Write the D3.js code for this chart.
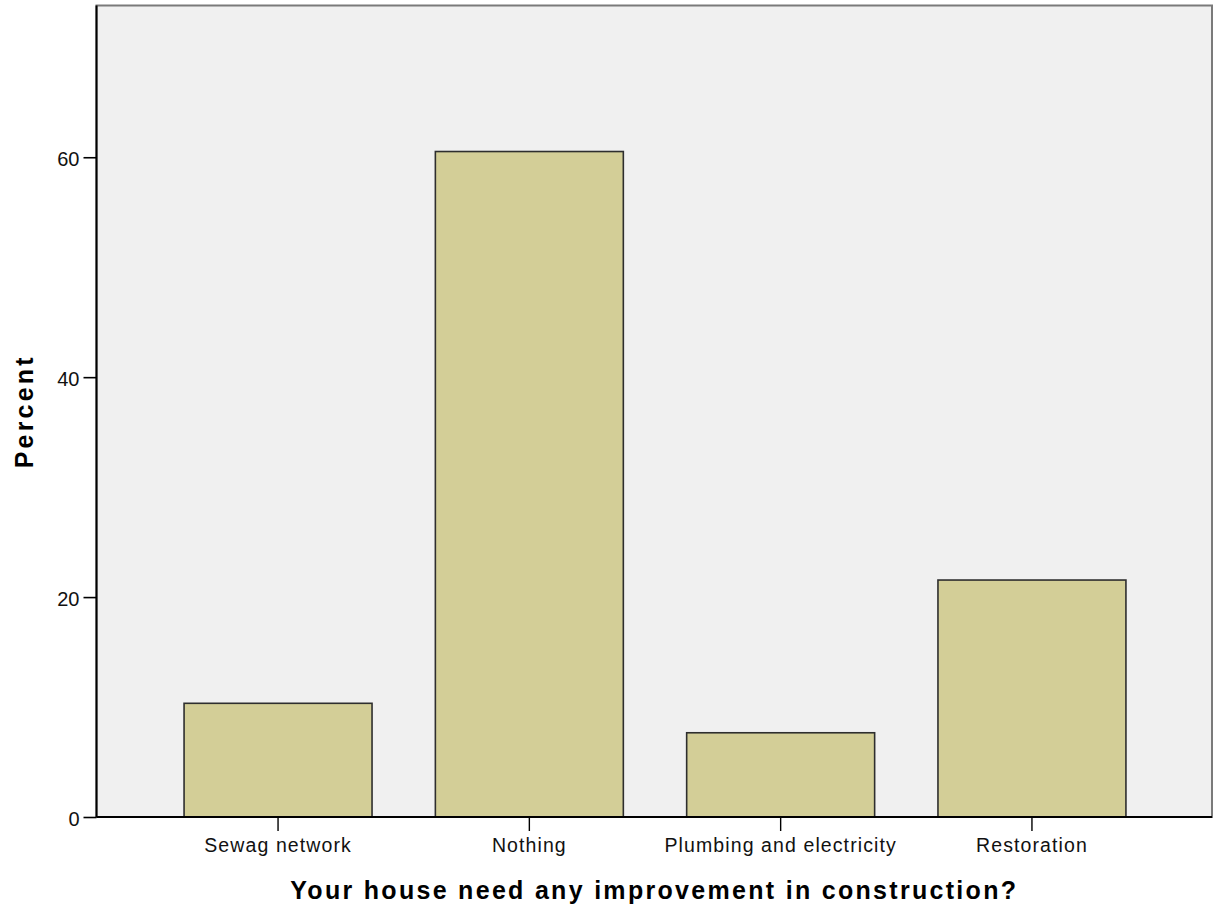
<!DOCTYPE html>
<html>
<head>
<meta charset="utf-8">
<script src="https://cdn.jsdelivr.net/npm/d3@7"></script>
<style>
  html, body { margin: 0; padding: 0; background: #fff; }
  svg { display: block; }
</style>
</head>
<body>
<svg id="chart" width="1217" height="913"></svg>
<script>
const categories = ["Sewag network", "Nothing", "Plumbing and electricity", "Restoration"];
const percents = [10.34, 60.52, 7.66, 21.55];
const yTicks = [0, 20, 40, 60];
const yMax = 73.8;
const xTitle = "Your house need any improvement in construction?";
const yTitle = "Percent";

const svg = d3.select("#chart");
const plot = { left: 96.5, right: 1212, top: 5.5, bottom: 817 };

const x = d3.scaleBand()
  .domain(categories)
  .range([152.4, 1157.6])
  .paddingInner(0.252)
  .paddingOuter(0.126);

const y = d3.scaleLinear().domain([0, yMax]).range([plot.bottom, plot.top]);

// plot background
svg.append("rect")
  .attr("x", plot.left).attr("y", plot.top)
  .attr("width", plot.right - plot.left).attr("height", plot.bottom - plot.top)
  .attr("fill", "#f0f0f0")
  .attr("stroke", "#7a7a7a").attr("stroke-width", 2);

// bars
svg.append("g").selectAll("rect")
  .data(categories.map((c, i) => ({ c, v: percents[i] })))
  .join("rect")
  .attr("x", d => x(d.c))
  .attr("y", d => y(d.v))
  .attr("width", x.bandwidth())
  .attr("height", d => y(0) - y(d.v))
  .attr("fill", "#d3ce97")
  .attr("stroke", "#2e2e2e")
  .attr("stroke-width", 1.6);

// y axis
const yAxis = svg.append("g")
  .attr("transform", `translate(${plot.left},0)`)
  .call(d3.axisLeft(y).tickValues(yTicks).tickSize(13).tickPadding(4).tickSizeOuter(0));
yAxis.select(".domain").attr("stroke", "#000").attr("stroke-width", 2)
  .attr("d", `M0,${plot.top}V${plot.bottom}`);
yAxis.selectAll(".tick line").attr("stroke", "#000").attr("stroke-width", 1.6);
yAxis.selectAll(".tick text")
  .attr("font-family", "'Liberation Sans', Arial, sans-serif")
  .attr("font-size", 20).attr("fill", "#111").attr("dy", "0.42em");

// x axis
const xAxis = svg.append("g")
  .attr("transform", `translate(0,${plot.bottom})`)
  .call(d3.axisBottom(x).tickSize(14).tickPadding(6).tickSizeOuter(0));
xAxis.select(".domain").attr("stroke", "#000").attr("stroke-width", 2)
  .attr("d", `M${plot.left},0H${plot.right}`);
xAxis.selectAll(".tick line").attr("stroke", "#000").attr("stroke-width", 1.4);
xAxis.selectAll(".tick text")
  .attr("font-family", "'Liberation Sans', Arial, sans-serif")
  .attr("font-size", 19.5).attr("fill", "#111")
  .attr("letter-spacing", "1.1px")
  .attr("dy", "0.75em");

// axis titles
svg.append("text")
  .attr("x", (plot.left + plot.right) / 2).attr("y", 899)
  .attr("text-anchor", "middle")
  .attr("font-family", "'Liberation Sans', Arial, sans-serif")
  .attr("font-weight", "bold").attr("font-size", 25)
  .attr("letter-spacing", "2.3px")
  .attr("fill", "#000")
  .text(xTitle);

svg.append("text")
  .attr("transform", `translate(33,${(plot.top + plot.bottom) / 2}) rotate(-90)`)
  .attr("text-anchor", "middle")
  .attr("font-family", "'Liberation Sans', Arial, sans-serif")
  .attr("font-weight", "bold").attr("font-size", 25)
  .attr("letter-spacing", "3.2px")
  .attr("fill", "#000")
  .text(yTitle);
</script>
</body>
</html>
